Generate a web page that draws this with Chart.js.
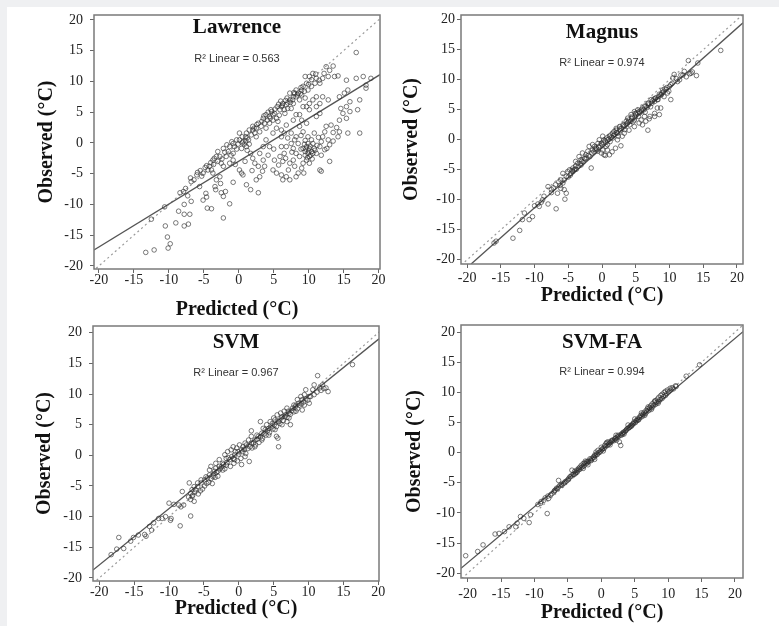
<!DOCTYPE html>
<html>
<head>
<meta charset="utf-8">
<script src="https://cdn.jsdelivr.net/npm/chart.js@4.4.1/dist/chart.umd.min.js"></script>
<style>
  body { margin: 0; background: #eff0f2; width: 779px; height: 626px; overflow: hidden; position: relative; }
  #sheet { position: absolute; left: 7px; top: 7px; width: 772px; height: 619px; background: #fff; }
  canvas.panel { position: absolute; }
</style>
</head>
<body>
<div id="sheet"></div>
<canvas id="lawrence" class="panel" width="355" height="312" style="left:35px;top:10px"></canvas>
<canvas id="magnus" class="panel" width="353" height="298" style="left:400px;top:10px"></canvas>
<canvas id="svm" class="panel" width="356" height="300" style="left:33px;top:321px"></canvas>
<canvas id="svmfa" class="panel" width="350" height="305" style="left:403px;top:320px"></canvas>
<script>
// tick labels shared by every panel (both axes)
const tickValues = [-20, -15, -10, -5, 0, 5, 10, 15, 20];
// dotted 1:1 reference line
const identityLine = [-22, 22];

// [predicted, observed] pairs
const lawrencePoints = [
  [-13.3,-17.8],[-12.1,-17.4],[-12.5,-12.4],[-10.6,-10.4],[-10.5,-13.5],[-10.2,-15.3],[-10.1,-17.1],[-9.8,-16.4],
  [-9.0,-13.0],[-8.6,-11.1],[-7.8,-11.6],[-7.8,-10.0],[-7.8,-13.5],[-7.2,-13.2],[-7.0,-11.6],[-6.8,-9.5],
  [-7.3,-8.6],[-8.4,-8.1],[-7.9,-7.9],[-7.6,-7.4],[-6.8,-6.3],[-6.9,-5.7],[-6.0,-5.2],[-5.1,-4.9],
  [-4.7,-8.2],[-4.6,-8.8],[-4.5,-10.6],[-3.9,-10.7],[-3.4,-7.1],[-3.3,-7.6],[-2.5,-8.1],[-2.2,-8.7],
  [-1.9,-7.9],[-2.2,-12.2],[-1.3,-9.9],[-4.6,-3.7],[-4.2,-3.8],[-3.9,-4.4],[-3.7,-4.9],[-3.2,-6.0],
  [-2.7,-5.5],[-2.6,-6.6],[-2.2,-3.8],[-2.5,-3.3],[-2.7,-2.2],[-3.0,-1.4],[-2.2,-0.9],[-1.5,-1.4],
  [-1.8,-2.2],[-1.3,-3.3],[-0.8,-2.8],[-0.8,-1.7],[-0.6,-0.6],[-0.3,0.5],[0.1,0.5],[0.6,0.2],
  [-0.1,-0.2],[0.4,-0.9],[1.1,-0.6],[1.5,-0.2],[1.2,0.8],[1.8,1.3],[2.3,1.6],[2.0,2.1],
  [2.5,1.0],[1.2,-1.2],[1.7,-1.7],[2.0,-2.5],[2.3,-3.3],[2.8,-3.8],[3.5,-2.8],[3.7,-3.8],
  [3.0,-5.5],[0.1,-4.4],[0.4,-4.9],[0.6,-5.2],[-0.8,-6.4],[1.1,-6.8],[1.7,-7.6],[2.8,-8.1],
  [-5.6,-7.1],[-5.1,-9.3],[-3.7,-2.8],[-3.2,-2.2],[-5.5,-4.5],[-4.8,-4.0],[-4.0,-3.2],[-3.5,-2.5],
  [-1.0,0.2],[0.5,1.0],[0.8,-0.2],[-0.3,-1.0],[1.0,0.3],[-2.0,-1.5],
  [2.8,3.2],[3.2,2.7],[3.5,4.0],[3.9,4.6],[4.4,4.3],[4.7,5.1],[5.1,4.8],[5.4,4.0],
  [5.6,3.5],[6.1,5.9],[6.3,6.4],[6.8,6.2],[7.3,7.0],[7.8,6.4],[8.2,7.5],[8.5,8.1],
  [9.0,8.6],[9.2,9.2],[9.7,9.7],[9.5,10.8],[10.1,10.8],[10.6,11.3],[11.1,10.5],[11.6,9.7],
  [12.0,10.5],[12.5,12.4],[13.5,12.5],[12.8,10.8],[13.7,10.8],[14.2,10.9],[15.4,10.2],[16.8,10.5],
  [17.8,10.8],[16.8,14.7],[18.2,9.4],[18.9,10.5],[18.2,8.9],[-1.3,-0.6],[-0.8,-0.1],[0.1,1.6],
  [1.1,1.6],[1.5,2.1],[2.0,2.7],[2.5,2.4],[3.0,1.8],[3.7,3.2],[3.9,2.4],[4.4,3.2],
  [4.9,3.7],[4.9,4.6],[5.9,5.4],[6.5,5.4],[7.0,5.6],[7.5,5.6],[7.8,7.5],[7.3,8.1],
  [8.2,8.6],[8.7,7.0],[9.0,7.8],[9.5,7.3],[9.9,8.6],[10.4,9.2],[10.9,9.7],[9.7,5.9],
  [10.1,6.4],[9.2,5.9],[11.1,5.9],[11.6,4.8],[11.1,4.3],[5.5,5.9],[6.0,6.8],[6.7,6.9],
  [7.0,6.5],[7.7,7.0],[8.0,8.0],[8.8,8.0],[4.2,5.0],[4.5,4.0],[5.8,4.5],[6.6,4.8],
  [7.8,3.7],[8.2,4.6],[8.7,4.6],[9.0,3.7],[9.7,3.2],[10.1,5.4],[10.6,7.0],[11.1,7.5],
  [11.6,6.4],[12.0,7.5],[12.8,7.0],[8.7,2.7],[9.2,1.8],[9.9,1.0],[10.4,0.5],[10.6,-0.1],
  [10.8,-0.9],[9.7,-0.6],[9.5,-1.4],[9.9,-1.7],[10.1,-2.2],[10.4,-1.4],[9.7,-2.8],[9.2,-3.3],
  [9.0,-4.1],[8.7,-2.2],[8.2,-1.7],[7.8,-2.8],[7.3,-3.3],[7.1,-4.4],[6.8,-5.5],[7.3,-6.0],
  [6.3,-6.0],[6.1,-5.2],[5.4,-4.9],[4.9,-4.4],[5.1,-2.8],[5.9,-2.2],[6.5,-1.7],[6.8,-0.6],
  [7.5,-0.1],[8.0,0.5],[7.8,-0.9],[8.5,-0.1],[8.2,1.0],[7.5,1.6],[7.0,0.8],[6.5,1.6],
  [6.1,1.0],[6.1,-0.6],[8.2,-5.5],[8.5,-4.9],[9.3,-4.9],[11.1,-1.7],[11.6,-0.6],[11.8,0.2],
  [12.0,1.0],[12.3,1.8],[12.5,2.7],[13.2,2.9],[12.8,0.5],[12.3,-1.1],[11.8,-2.0],[13.0,-0.3],
  [13.0,-3.0],[11.6,-4.4],[11.8,-4.6],[13.5,1.7],[14.2,1.0],[14.4,1.8],[14.4,3.7],[14.9,4.8],
  [15.4,5.9],[14.6,5.6],[14.4,7.5],[15.1,8.1],[15.6,8.6],[15.9,6.7],[15.9,5.1],[15.6,1.6],
  [15.4,4.0],[17.3,7.0],[17.0,5.4],[17.3,1.6],[9.2,-0.9],[10.1,-0.9],[9.9,-0.1],[9.5,-2.0],
  [10.6,-1.7],[10.1,-3.3],[3.9,0.5],[4.4,-0.6],[3.5,-0.6],[3.0,-1.7],[4.9,1.6],[5.4,2.4],
  [6.1,2.1],[6.8,2.9],
  [0.5,0.0],[1.0,1.0],[1.4,0.5],[2.2,2.4],[2.6,3.0],[3.3,3.5],[3.6,4.4],[4.1,3.7],
  [4.6,5.4],[5.2,5.5],[5.7,6.3],[6.2,6.1],[6.9,7.3],[7.4,6.6],[7.9,8.2],[8.4,7.8],
  [8.9,9.0],[9.4,8.4],[10.0,9.5],[10.4,10.3],[11.0,11.2],[11.5,10.2],[12.2,11.3],[13.0,11.8],
  [-6.4,-6.0],[-5.9,-4.8],[-5.3,-5.4],[-4.4,-4.4],[-3.6,-3.5],[-3.0,-3.0],[-2.4,-2.6],[-1.7,-0.3],
  [-1.1,-2.0],[-0.5,-3.5],[0.9,-3.0],[1.9,-4.5],[2.5,-6.0],[3.4,-4.6],[4.2,-2.0],[5.0,-1.0],
  [5.7,-3.6],[6.3,-3.0],[6.7,-2.5],[7.6,-1.5],[8.0,-3.8],[8.9,-1.0],[9.4,-0.2],[9.6,-1.0],
  [10.0,-1.3],[10.3,-2.0],[10.5,-2.6],[10.9,-1.2],[10.2,-0.5],[9.8,-2.4],[11.2,-0.4],[11.4,0.9],
  [10.8,1.6],[9.5,0.4],[8.9,1.2],[12.6,-0.9],[13.5,0.3],[14.0,2.5]
];
const magnusPoints = [
  [17.6,14.9],[14.2,12.8],[12.8,13.2],[14.0,10.7],[13.4,11.3],[13.2,11.1],[12.2,11.4],[11.7,10.8],
  [10.7,10.9],[10.5,10.3],[11.2,9.7],[10.2,9.2],[9.5,8.4],[9.0,8.3],[8.7,7.5],[9.7,7.8],
  [10.2,6.7],[8.2,6.7],[7.8,6.4],[7.3,6.7],[6.8,6.1],[8.2,5.3],[7.8,4.4],[7.1,3.9],
  [6.8,1.6],[6.3,5.6],[5.8,5.0],[5.3,5.0],[5.0,4.2],[4.8,4.7],[4.3,4.2],[3.8,3.6],
  [3.6,3.1],[4.3,3.1],[4.8,3.3],[5.8,3.3],[6.3,3.9],[6.5,3.1],[3.1,2.5],[2.6,2.2],
  [2.1,1.9],[2.3,1.1],[1.8,1.4],[1.3,0.8],[1.6,0.3],[2.8,-1.0],[0.8,0.0],[0.3,0.0],
  [0.1,0.6],[-0.1,-0.6],[0.6,-1.1],[0.8,-1.7],[0.3,-2.5],[-0.1,-2.2],[-0.6,-0.6],[-1.1,-1.1],
  [-1.4,-1.7],[-1.9,-1.1],[-2.1,-1.9],[-2.4,-2.5],[-2.6,-3.1],[-3.1,-3.3],[-3.6,-3.9],[-3.9,-4.4],
  [-4.1,-5.0],[-4.3,-5.3],[-4.6,-5.6],[-1.6,-4.7],[-5.1,-5.3],[-5.3,-6.1],[-5.6,-6.7],[-5.8,-7.2],
  [-6.1,-8.1],[-5.6,-8.3],[-5.3,-8.9],[-6.6,-8.9],[-5.5,-9.9],[-6.8,-11.5],[-8.0,-7.8],[-8.0,-10.7],
  [-9.0,-10.4],[-8.8,-10.0],[-9.3,-11.1],[-10.3,-12.8],[-10.8,-13.3],[-11.5,-12.2],[-11.8,-13.3],[-12.2,-15.1],
  [-13.2,-16.4],[-16.0,-17.2],[-15.7,-16.9],[-1.4,-0.8],[-0.9,-1.4],[-0.4,0.0],[1.1,0.6],[1.6,1.1],
  [2.1,1.6],[2.6,1.8],[3.3,2.2],[3.8,2.8],[4.0,3.3],[4.5,3.8],[5.0,4.4],[5.5,4.7],
  [6.0,5.3],[6.5,5.6],[6.9,5.8],[7.4,6.1],[7.9,6.9],[8.4,7.2],[8.9,7.8],[9.2,7.2],
  [9.9,8.1],[0.8,-0.8],[0.1,-1.7],[-0.6,-1.9],[-2.9,-2.2],[-3.4,-2.8],[-3.1,-4.2],[-3.9,-3.6],
  [-4.3,-4.7],[-4.8,-5.0],[-6.1,-6.7],[-5.8,-5.6],[2.3,0.0],[3.3,1.1],[4.8,2.2],[6.0,2.5],
  [7.8,3.9],[8.7,5.3],[1.1,-2.5],
  [-5.0,-6.2],[-4.7,-5.9],[-4.4,-5.1],[-4.0,-4.9],[-3.8,-4.9],[-3.5,-4.4],[-3.2,-4.0],[-3.0,-3.6],
  [-2.8,-3.7],[-2.5,-3.2],[-2.3,-3.0],[-2.0,-2.6],[-1.8,-2.8],[-1.5,-2.2],[-1.2,-2.0],[-1.0,-1.6],
  [-0.8,-1.5],[-0.5,-1.2],[-0.3,-1.0],[0.0,-0.8],[0.2,-0.4],[0.5,-0.2],[0.7,0.3],[1.0,0.1],
  [1.2,-0.3],[1.4,0.4],[1.7,0.7],[1.9,0.9],[2.2,1.2],[2.4,0.6],[2.7,1.5],[2.9,1.9],
  [3.2,2.4],[3.4,1.7],[3.6,2.6],[3.9,3.0],[4.1,2.5],[4.4,3.6],[4.6,3.0],[4.9,3.8],
  [5.2,4.5],[5.4,3.9],[5.6,4.5],[5.9,4.8],[6.2,5.0],[6.4,4.6],[6.7,5.4],[6.9,6.1],
  [7.2,5.5],[7.5,6.5],[7.7,6.8],[8.0,7.0],[8.3,6.7],[8.5,7.6],[8.8,7.5],[9.1,8.0],
  [9.3,8.5],[9.6,8.7],[10.0,8.9],[10.4,9.4],[11.0,10.2],[11.5,10.0],[12.0,10.8],[12.5,10.5],
  [13.0,11.0],[-7.2,-8.0],[-7.5,-8.3],[-6.9,-7.5],[-6.4,-7.0],[-6.2,-7.6],[-9.5,-10.7],[-8.6,-9.4],
  [-10.0,-11.0],[-7.5,-8.8],[0.5,-2.6],[1.5,-2.0],[2.0,-1.4],[3.0,0.6],[4.0,1.6],[5.5,2.8],
  [7.0,3.5],[8.5,4.2]
];
const svmPoints = [
  [16.3,14.8],[11.3,13.0],[12.5,11.0],[12.8,10.4],[12.0,11.5],[11.6,11.0],[10.8,11.5],[10.6,10.7],
  [9.6,10.7],[10.1,9.6],[9.1,9.1],[8.6,8.5],[8.2,8.2],[9.1,7.4],[7.7,7.7],[7.2,6.9],
  [6.7,6.6],[6.2,6.3],[6.9,5.5],[7.4,5.0],[5.7,5.5],[5.2,5.8],[4.8,5.2],[3.1,5.5],
  [4.3,4.4],[3.8,4.2],[3.3,3.6],[1.8,4.0],[5.4,3.1],[5.6,2.8],[5.7,1.4],[2.8,3.1],
  [2.3,2.5],[1.8,2.0],[1.1,1.7],[0.6,1.4],[0.4,0.9],[-0.1,0.6],[-0.8,1.4],[-1.1,0.9],
  [-0.6,0.1],[-0.8,-0.5],[-1.3,-0.7],[-1.8,-0.5],[-2.3,-1.3],[-2.8,-1.8],[1.5,-1.0],[0.4,-1.5],
  [-3.3,-2.1],[-3.5,-2.6],[-4.0,-1.8],[-4.2,-2.4],[-3.7,-3.5],[-4.5,-3.7],[-4.9,-4.0],[-5.4,-4.5],
  [-5.9,-5.1],[-6.4,-5.1],[-6.7,-5.6],[-7.1,-4.5],[-6.9,-6.2],[-6.7,-6.7],[-6.4,-7.5],[-6.9,-9.9],
  [-8.1,-5.9],[-7.9,-8.1],[-8.3,-8.4],[-8.4,-11.5],[-9.7,-10.3],[-9.8,-10.6],[-10.0,-7.8],[-11.5,-10.3],
  [-12.2,-11.0],[-12.5,-12.2],[-13.3,-13.2],[-14.4,-13.0],[-15.1,-13.4],[-17.2,-13.4],[-17.5,-15.3],[-18.3,-16.2],
  [-3.3,-1.3],[-2.8,-0.7],[-2.0,0.1],[-1.6,0.6],[-0.3,1.2],[0.1,1.7],[0.9,2.0],[1.4,2.5],
  [1.8,3.1],[2.6,3.3],[3.5,4.4],[4.0,5.0],[4.5,5.5],[5.0,6.1],[5.5,6.6],[6.0,6.9],
  [6.5,7.2],[6.9,7.7],[7.9,8.2],[8.4,9.1],[8.9,9.6],[9.4,9.9],[-4.2,-3.2],[-4.7,-3.5],
  [-5.4,-4.0],[-5.9,-4.5],[-6.2,-5.6],[-1.8,-1.6],[-2.3,-2.4],[-3.0,-2.6],[-0.6,-0.7],[0.9,-0.2],
  [2.3,1.4],[3.3,2.5],[4.3,3.3],[5.2,4.2],[6.2,5.0],[7.2,6.1],[8.2,7.2],[9.4,8.2],
  [10.1,8.5],
  [-5.5,-5.8],[-5.2,-5.5],[-4.9,-5.0],[-4.6,-4.6],[-4.3,-4.4],[-4.0,-3.8],[-3.8,-4.6],[-3.6,-3.0],
  [-3.4,-3.6],[-3.2,-2.8],[-3.0,-3.4],[-2.7,-2.2],[-2.5,-1.9],[-2.2,-1.5],[-2.0,-2.2],[-1.7,-1.2],
  [-1.5,-0.4],[-1.2,-1.8],[-1.0,-0.2],[-0.7,-1.3],[-0.5,0.6],[-0.2,-0.9],[0.0,0.2],[0.3,-0.5],
  [0.6,0.6],[0.8,1.0],[1.0,0.3],[1.3,1.1],[1.6,1.4],[1.9,1.2],[2.1,2.0],[2.4,1.7],
  [2.6,2.6],[2.9,2.1],[3.1,3.0],[3.4,2.8],[3.6,3.5],[3.9,3.3],[4.1,4.0],[4.4,3.7],
  [4.6,4.6],[4.9,4.3],[5.1,5.0],[5.4,4.7],[5.6,5.6],[5.9,5.2],[6.1,6.1],[6.4,5.7],
  [6.6,6.3],[6.9,6.2],[7.1,7.2],[7.4,6.7],[7.6,7.3],[7.9,7.1],[8.1,7.9],[8.4,7.6],
  [8.7,8.2],[9.0,8.4],[9.3,8.7],[9.6,9.2],[9.9,9.0],[10.3,9.6],[10.8,9.9],[11.2,10.3],
  [11.8,10.6],[12.2,10.9],[-6.6,-6.5],[-6.9,-7.2],[-7.2,-6.8],[-6.3,-6.0],[-5.8,-6.3],[-8.6,-8.1],
  [-9.3,-8.0],[-11.0,-10.3],[-10.5,-10.0],[-12.8,-11.6],[-13.5,-12.9],[-15.5,-14.0],[-16.5,-15.2]
];
const svmFaPoints = [
  [-20.3,-17.1],[-18.5,-16.4],[-17.7,-15.3],[-15.9,-13.5],[-15.3,-13.4],[-14.5,-13.1],[-13.8,-12.3],[-12.8,-12.3],
  [-12.6,-11.7],[-12.1,-10.6],[-11.6,-10.9],[-10.8,-11.6],[-10.6,-10.3],[-8.1,-10.1],[-9.1,-8.4],[-8.6,-7.9],
  [-7.9,-7.6],[-7.4,-6.8],[-6.9,-6.2],[-6.4,-4.6],[-6.2,-5.4],[-5.7,-5.1],[-5.4,-4.8],[-4.9,-4.3],
  [-4.4,-2.9],[-3.9,-3.5],[-3.7,-2.9],[-3.2,-2.4],[-2.7,-1.8],[-2.2,-1.5],[-1.7,-1.0],[-1.2,-0.7],
  [-0.7,-0.2],[-0.5,0.4],[0.0,0.9],[0.5,1.2],[1.0,1.8],[1.5,2.0],[2.0,2.3],[2.7,1.8],
  [2.9,1.2],[3.0,2.9],[3.4,3.4],[3.9,4.0],[4.4,4.5],[4.9,5.1],[5.4,5.6],[5.9,6.2],
  [6.4,6.7],[6.9,7.3],[7.4,7.8],[7.9,8.4],[8.4,8.9],[8.9,9.5],[9.4,10.0],[9.9,10.4],
  [10.6,10.8],[11.1,11.1],[12.7,12.7],[14.7,14.6],[-1.5,-1.3],[-1.0,-0.4],[-0.2,0.1],[0.2,0.7],
  [0.7,1.5],[1.2,1.6],[1.7,2.1],[2.2,2.5],[2.5,2.9],[3.2,3.1],[3.7,3.7],[4.2,4.2],
  [4.7,4.8],[5.2,5.3],[5.7,5.9],[6.2,6.4],[6.7,7.0],[7.2,7.5],[7.6,8.1],[8.1,8.6],
  [8.6,9.2],[9.1,9.7],[9.6,10.2],[10.3,10.7],[-5.9,-5.4],[-5.2,-4.7],[-4.7,-4.0],[-4.2,-3.6],
  [-3.4,-2.6],[-3.0,-2.1],[-2.5,-1.7],[-2.0,-1.4],[-6.4,-5.7],[-6.7,-5.9],[-7.1,-6.5],[-2.7,-2.6],
  [-4.4,-3.7],
  [-9.5,-8.6],[-9.0,-8.1],[-8.4,-7.5],[-8.0,-7.2],[-7.6,-7.0],[-7.0,-6.3],[-6.6,-6.0],[-6.0,-5.3],
  [-5.5,-5.0],[-5.0,-4.5],[-4.6,-4.0],[-4.1,-3.6],[-3.8,-3.3],[-3.5,-2.9],[-3.3,-2.8],[-3.0,-2.5],
  [-2.8,-2.3],[-2.6,-2.2],[-2.3,-1.8],[-2.1,-1.7],[-1.9,-1.5],[-1.6,-1.2],[-1.4,-1.0],[-1.1,-0.8],
  [-0.9,-0.5],[-0.6,-0.3],[-0.4,0.0],[-0.1,0.3],[0.1,0.5],[0.4,0.7],[0.6,1.0],[0.9,1.2],
  [1.1,1.4],[1.4,1.7],[1.6,1.9],[1.9,2.0],[2.1,2.3],[2.4,2.6],[2.6,2.7],[2.9,3.0],
  [3.1,3.2],[3.3,3.4],[3.6,3.6],[3.8,3.9],[4.1,4.1],[4.3,4.3],[4.6,4.6],[4.8,4.8],
  [5.1,5.0],[5.3,5.3],[5.6,5.5],[5.8,5.8],[6.1,6.0],[6.3,6.3],[6.6,6.5],[6.8,6.8],
  [7.1,7.0],[7.3,7.3],[7.6,7.5],[7.8,7.8],[8.1,8.0],[8.3,8.3],[8.6,8.5],[8.8,8.8],
  [9.1,9.0],[9.3,9.3],[9.6,9.5],[9.8,9.8],[10.1,10.1],[10.4,10.4],[10.8,10.6],[11.2,11.0],
  [-3.6,-3.2],[-2.0,-2.0],[-1.0,-1.1],[0.3,0.3],[1.3,1.3],[2.3,2.1],[3.4,3.1],[4.5,4.4],
  [5.5,5.4],[6.5,6.2],[7.5,7.2],[8.5,8.2],[-4.0,-3.1],[-2.4,-1.4],[-0.8,0.1],[0.8,1.7],
  [2.2,2.9],[4.0,4.6],[5.0,5.6],[6.0,6.6],[7.0,7.6],[8.0,8.6]
];

// regression line end points, read where the solid line meets the frame
const lawrenceFit = [[-20.7, -17.4], [20.2, 11.1]];
const magnusFit = [[-19.4, -20.7], [20.9, 19.5]];
const svmFit = [[-20.9, -18.7], [20.1, 19.0]];
const svmFaFit = [[-21.0, -19.2], [21.2, 20.1]];

const panelNames = ["Lawrence", "Magnus", "SVM", "SVM-FA"];
const rSquared = ["0.563", "0.974", "0.967", "0.994"];

const serif = "'Liberation Serif', 'Times New Roman', serif";

// frame around the plot plus the name and R² inside it
const panelText = {
  id: "panelText",
  afterDatasetsDraw(chart, args, opts) {
    const { ctx, chartArea } = chart;
    const cx = (chartArea.left + chartArea.right) / 2;
    ctx.save();
    ctx.strokeStyle = "#7a7a7a";
    ctx.lineWidth = 1.5;
    ctx.strokeRect(chartArea.left, chartArea.top, chartArea.right - chartArea.left, chartArea.bottom - chartArea.top);
    ctx.textAlign = "center";
    ctx.textBaseline = "alphabetic";
    ctx.fillStyle = "#111";
    ctx.font = "bold 21px " + serif;
    ctx.fillText(opts.title, cx, chartArea.top + opts.titleDy);
    ctx.fillStyle = "#333";
    ctx.font = "11px 'Liberation Sans', Arial, sans-serif";
    ctx.fillText("R\u00b2 Linear = " + opts.r2, cx, chartArea.top + opts.r2Dy);
    ctx.restore();
  },
};

function makeAxis(horizontal, min, max, size, pad, title) {
  return {
    type: "linear",
    min: min,
    max: max,
    afterBuildTicks: (scale) => {
      scale.ticks = tickValues.map((v) => ({ value: v }));
    },
    // fixed axis sizes so each plot frame lands where it sits in the figure
    afterFit: (scale) => {
      if (horizontal) scale.height = size;
      else scale.width = size;
      scale.paddingTop = 0;
      scale.paddingBottom = 0;
      scale.paddingLeft = 0;
      scale.paddingRight = 0;
    },
    grid: { drawOnChartArea: false, color: "#666", tickLength: 4 },
    border: { display: false },
    ticks: {
      autoSkip: false,
      maxRotation: 0,
      padding: pad,
      color: "#222",
      font: { family: serif, size: 14 },
    },
    title: {
      display: true,
      text: title,
      color: "#111",
      padding: 0,
      font: { family: serif, size: 20, weight: "bold", lineHeight: 1.2 },
    },
  };
}

function drawPanel(canvasId, idx, points, fit, layout) {
  new Chart(document.getElementById(canvasId), {
    type: "scatter",
    data: {
      datasets: [
        {
          data: points.map(([x, y]) => ({ x, y })),
          pointRadius: 2.3,
          pointBorderWidth: 0.9,
          borderColor: "rgba(45,45,45,0.7)",
          backgroundColor: "rgba(0,0,0,0)",
        },
        {
          type: "line",
          data: fit.map(([x, y]) => ({ x, y })),
          borderColor: "#555",
          borderWidth: 1.3,
          pointRadius: 0,
        },
        {
          type: "line",
          data: identityLine.map((v) => ({ x: v, y: v })),
          borderColor: "#9a9a9a",
          borderWidth: 1.2,
          borderDash: [2, 3],
          pointRadius: 0,
        },
      ],
    },
    options: {
      responsive: false,
      animation: false,
      events: [],
      layout: { autoPadding: false, padding: { top: 5, right: 10, left: 0, bottom: 0 } },
      plugins: {
        legend: { display: false },
        tooltip: { enabled: false },
        panelText: {
          title: panelNames[idx],
          r2: rSquared[idx],
          titleDy: layout.titleDy,
          r2Dy: layout.r2Dy,
        },
      },
      scales: {
        x: makeAxis(true, layout.xRange[0], layout.xRange[1], layout.xAxisH, layout.xPad, "Predicted (\u00b0C)"),
        y: makeAxis(false, layout.yRange[0], layout.yRange[1], layout.yAxisW, layout.yPad, "Observed (\u00b0C)"),
      },
    },
    plugins: [panelText],
  });
}

drawPanel("lawrence", 0, lawrencePoints, lawrenceFit, {
  xRange: [-20.7, 20.2], yRange: [-20.5, 20.8], yAxisW: 59, xAxisH: 53, xPad: -1, yPad: 7, titleDy: 18, r2Dy: 47,
});
drawPanel("magnus", 1, magnusPoints, magnusFit, {
  xRange: [-20.9, 20.9], yRange: [-20.7, 20.8], yAxisW: 61, xAxisH: 44, xPad: 2, yPad: 2, titleDy: 23, r2Dy: 51,
});
drawPanel("svm", 2, svmPoints, svmFit, {
  xRange: [-20.9, 20.1], yRange: [-20.5, 21.1], yAxisW: 60, xAxisH: 40, xPad: -1, yPad: 7, titleDy: 22, r2Dy: 50,
});
drawPanel("svmfa", 3, svmFaPoints, svmFaFit, {
  xRange: [-21.0, 21.2], yRange: [-20.8, 21.2], yAxisW: 58, xAxisH: 47, xPad: 4, yPad: 2, titleDy: 23, r2Dy: 50,
});
</script>
</body>
</html>
